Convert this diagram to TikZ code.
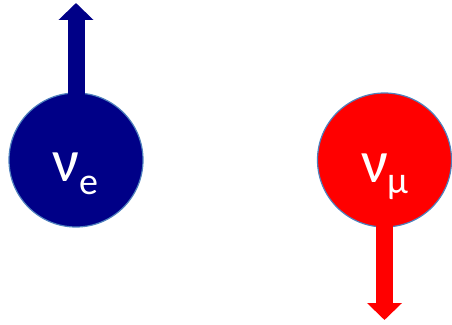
\documentclass[tikz,border=0pt]{standalone}
\usepackage{fontspec}
\setmainfont{Carlito}
\usetikzlibrary{arrows.meta}
\definecolor{navyb}{RGB}{0,0,135}
\definecolor{redb}{RGB}{255,0,0}
\definecolor{rim}{RGB}{79,129,189}
\tikzset{
  ball/.style={circle, draw=rim, line width=1.2pt, minimum size=134pt, inner sep=0pt},
  spinarrow/.style={line width=17pt, -{Triangle[width=34pt,length=17pt]}},
  bigsym/.style={text=white, anchor=base west, inner sep=0pt, font=\fontsize{60}{60}\selectfont},
  subsym/.style={text=white, anchor=base west, inner sep=0pt, font=\fontsize{38}{38}\selectfont},
}
\begin{document}
\begin{tikzpicture}[x=1pt,y=1pt]
\useasboundingbox (0,0) rectangle (452,324);
% electron neutrino
\node[ball, fill=navyb] (nue) at (76,164) {};
\coordinate (tipe) at (76,321);
\draw[spinarrow, navyb] ([yshift=-4pt]nue.north) -- (tipe);
\node[bigsym] (nuel) at (52,142) {ν};
\node[subsym] (sube) at (79,129) {e};
% muon neutrino
\node[ball, fill=redb] (numu) at (384.5,164) {};
\coordinate (tipm) at (384.5,4);
\draw[spinarrow, redb] ([yshift=4pt]numu.south) -- (tipm);
\node[bigsym] (numl) at (361,141) {ν};
\node[subsym] (subm) at (387,130) {μ};
\end{tikzpicture}
\end{document}
